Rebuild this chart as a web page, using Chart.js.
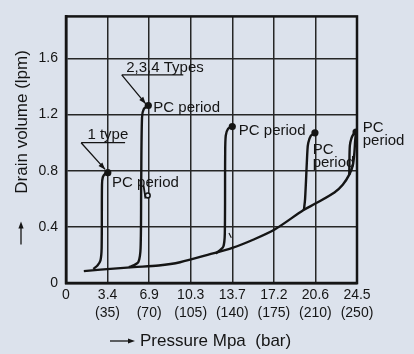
<!DOCTYPE html>
<html>
<head>
<meta charset="utf-8">
<script src="https://cdn.jsdelivr.net/npm/chart.js@4.4.0/dist/chart.umd.min.js"></script>
<style>
  body { margin: 0; background: #dce2ec; }
</style>
</head>
<body>
<canvas id="drain" width="414" height="354"></canvas>
<script>
// x is pressure in bar, y is drain volume in lpm
const xTicks = [0, 35, 70, 105, 140, 175, 210, 245];
const xTickMpa = ["0", "3.4", "6.9", "10.3", "13.7", "17.2", "20.6", "24.5"];
const xTickBar = ["", "(35)", "(70)", "(105)", "(140)", "(175)", "(210)", "(250)"];
const yTicks = [0, 0.4, 0.8, 1.2, 1.6];
const yTickLabels = ["0", "0.4", "0.8", "1.2", "1.6"];

// common curve along the bottom
const baseX = [15, 29, 57, 78, 96, 122, 140, 158, 176, 200, 210, 226, 233, 238.6, 241.5, 242.8, 243.5, 244.2];
const baseY = [0.085, 0.095, 0.113, 0.125, 0.148, 0.207, 0.25, 0.31, 0.383, 0.52, 0.566, 0.645, 0.7, 0.774, 0.84, 0.93, 1.02, 1.076];

// rising branches up to each PC period point
const type1X = [23, 26.5, 29, 30, 30.3, 31, 33, 35.2];
const type1Y = [0.1, 0.125, 0.16, 0.25, 0.7, 0.755, 0.78, 0.786];
const type2X = [53, 57.5, 61, 62.8, 63.3, 64, 65.5, 69.3];
const type2Y = [0.113, 0.128, 0.15, 0.25, 0.7, 1.18, 1.24, 1.265];
const type3X = [126, 129.5, 132.5, 133.7, 134, 134.5, 136.5, 140];
const type3Y = [0.21, 0.232, 0.26, 0.35, 0.9, 1.05, 1.1, 1.115];
const type4X = [200.3, 201.3, 203.3, 204, 206.2, 209.6];
const type4Y = [0.52, 0.6, 0.95, 1.0, 1.05, 1.07];
const type5X = [238.5, 238.6, 239, 240.3, 242, 244.2];
const type5Y = [0.77, 0.85, 0.98, 1.03, 1.06, 1.076];

// small marks near the branches
const hookX = [65.3, 66.8, 68.8];
const hookY = [0.694, 0.61, 0.624];
const tickMarkX = [137.2, 139.2];
const tickMarkY = [0.357, 0.322];

// PC period points and their labels
const pcX = [35.2, 69.3, 140, 209.6, 244.2];
const pcY = [0.786, 1.265, 1.115, 1.07, 1.076];
const pcLabels = [["PC period"], ["PC period"], ["PC period"], ["PC", "period"], ["PC", "period"]];
const typeLabels = ["1 type", "2,3,4 Types"];

const ink = "#151515";
const bg = "#dce2ec";
const family = "'Liberation Sans', Arial, sans-serif";

const pts = (xs, ys) => xs.map((x, i) => ({ x: x, y: ys[i] }));
const curve = (xs, ys) => ({
  data: pts(xs, ys),
  borderColor: ink,
  borderWidth: 2.4,
  pointRadius: 0,
  tension: 0.3,
  fill: false,
});

function arrowHead(ctx, x0, y0, x1, y1, len, half) {
  const a = Math.atan2(y1 - y0, x1 - x0);
  ctx.beginPath();
  ctx.moveTo(x1, y1);
  ctx.lineTo(x1 - len * Math.cos(a) + half * Math.sin(a), y1 - len * Math.sin(a) - half * Math.cos(a));
  ctx.lineTo(x1 - len * Math.cos(a) - half * Math.sin(a), y1 - len * Math.sin(a) + half * Math.cos(a));
  ctx.closePath();
  ctx.fill();
}

const annotate = {
  id: "annotate",
  beforeDraw(chart) {
    const ctx = chart.ctx;
    ctx.save();
    ctx.fillStyle = bg;
    ctx.fillRect(0, 0, chart.width, chart.height);
    ctx.restore();
  },
  afterDraw(chart) {
    const { ctx, chartArea: a, scales: { x, y } } = chart;
    ctx.save();
    ctx.strokeStyle = ink;
    ctx.fillStyle = ink;

    // outer frame
    ctx.lineWidth = 2.5;
    ctx.strokeRect(a.left, a.top, a.right - a.left, a.bottom - a.top);

    // PC period labels, offsets in px from each point
    const pcOffsets = [[4.3, 10, 13], [5, 2.5, 13], [6.5, 4.5, 13], [-2.3, 17, 13], [6.7, -4.3, 13]];
    ctx.font = "15px " + family;
    ctx.textAlign = "left";
    ctx.textBaseline = "middle";
    pcLabels.forEach((lines, i) => {
      const px = x.getPixelForValue(pcX[i]);
      const py = y.getPixelForValue(pcY[i]);
      const [dx, dy, lh] = pcOffsets[i];
      lines.forEach((t, j) => ctx.fillText(t, px + dx, py + dy + j * lh));
    });

    // type callouts: text, underline and leader arrow
    const callouts = [
      { dx: 0, dy: -38, ux0: -26.7, ux1: 17.3, uy: -30, tx: -2.7, ty: -3.3 },
      { dx: 16.7, dy: -37.7, ux0: -26.6, ux1: 35, uy: -30.7, tx: -2.6, ty: -1.7 },
    ];
    ctx.textAlign = "center";
    typeLabels.forEach((t, i) => {
      const c = callouts[i];
      const px = x.getPixelForValue(pcX[i]);
      const py = y.getPixelForValue(pcY[i]);
      ctx.fillText(t, px + c.dx, py + c.dy);
      ctx.lineWidth = 1.3;
      ctx.beginPath();
      ctx.moveTo(px + c.ux0, py + c.uy);
      ctx.lineTo(px + c.ux1, py + c.uy);
      ctx.moveTo(px + c.ux0, py + c.uy);
      ctx.lineTo(px + c.tx, py + c.ty);
      ctx.stroke();
      arrowHead(ctx, px + c.ux0, py + c.uy, px + c.tx, py + c.ty, 7, 2.6);
    });

    // axis titles with arrows
    ctx.font = "17px " + family;
    ctx.textAlign = "center";
    ctx.save();
    ctx.translate(a.left - 44, a.top + 105.5);
    ctx.rotate(-Math.PI / 2);
    ctx.fillText("Drain volume (lpm)", 0, 0);
    ctx.restore();

    ctx.lineWidth = 1.3;
    const ax = a.left - 45;
    ctx.beginPath();
    ctx.moveTo(ax, a.top + 228);
    ctx.lineTo(ax, a.top + 208);
    ctx.stroke();
    arrowHead(ctx, ax, a.top + 228, ax, a.top + 205, 7, 2.6);

    const ty = a.bottom + 58;
    ctx.textAlign = "left";
    ctx.fillText("Pressure Mpa  (bar)", a.left + 74, ty);
    ctx.beginPath();
    ctx.moveTo(a.left + 44, ty);
    ctx.lineTo(a.left + 66, ty);
    ctx.stroke();
    arrowHead(ctx, a.left + 44, ty, a.left + 69, ty, 7, 2.6);

    ctx.restore();
  },
};

new Chart(document.getElementById("drain"), {
  type: "line",
  data: {
    datasets: [
      curve(baseX, baseY),
      curve(type1X, type1Y),
      curve(type2X, type2Y),
      curve(type3X, type3Y),
      curve(type4X, type4Y),
      curve(type5X, type5Y),
      {
        data: pts(hookX, hookY),
        borderColor: ink,
        borderWidth: 1.8,
        pointRadius: [0, 0, 2.4],
        pointBorderWidth: 1.6,
        pointBackgroundColor: bg,
        pointBorderColor: ink,
        tension: 0,
      },
      {
        data: pts(tickMarkX, tickMarkY),
        borderColor: ink,
        borderWidth: 1.1,
        pointRadius: 0,
      },
      {
        //the PC period dots
        data: pts(pcX, pcY),
        showLine: false,
        pointRadius: 3.6,
        pointBackgroundColor: ink,
        pointBorderWidth: 0,
      },
    ],
  },
  options: {
    responsive: false,
    animation: false,
    layout: { padding: { left: 0, right: 57, top: 10, bottom: 0 } },
    plugins: {
      legend: { display: false },
      tooltip: { enabled: false },
    },
    scales: {
      x: {
        type: "linear",
        min: 0,
        max: 245,
        afterBuildTicks: (s) => { s.ticks = xTicks.map((v) => ({ value: v })); },
        afterFit: (s) => { s.height = 71; },
        ticks: {
          autoSkip: false,
          maxRotation: 0,
          padding: 3,
          color: ink,
          font: { size: 14, family: family, lineHeight: 1.3 },
          callback: (v) => {
            const i = xTicks.indexOf(v);
            return i > 0 ? [xTickMpa[i], xTickBar[i]] : xTickMpa[i];
          },
        },
        grid: { color: "#262626", lineWidth: 1.5, drawTicks: false },
        border: { color: ink, width: 2.5 },
      },
      y: {
        min: 0,
        max: 1.9,
        afterBuildTicks: (s) => { s.ticks = yTicks.map((v) => ({ value: v })); },
        afterFit: (s) => { s.width = 66; },
        ticks: {
          padding: 8,
          color: ink,
          font: { size: 14, family: family },
          callback: (v) => yTickLabels[yTicks.indexOf(v)],
        },
        grid: { color: "#262626", lineWidth: 1.5, drawTicks: false },
        border: { color: ink, width: 2.5 },
      },
    },
  },
  plugins: [annotate],
});
</script>
</body>
</html>
